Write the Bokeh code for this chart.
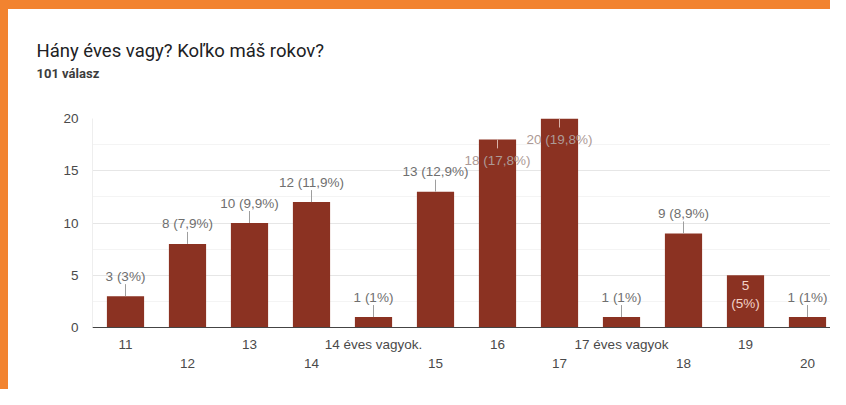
from bokeh.plotting import figure
from bokeh.models import (ColumnDataSource, LinearAxis, FixedTicker, Title,
                          Range1d)
from bokeh.core.properties import value
from bokeh.embed import file_html
from bokeh.resources import INLINE
import math

# ---- data ----
categories = ["11", "12", "13", "14", "14 éves vagyok.", "15", "16", "17",
              "17 éves vagyok", "18", "19", "20"]
counts = [3, 8, 10, 12, 1, 13, 18, 20, 1, 9, 5, 1]
y_ticks = [0, 5, 10, 15, 20]
title_text = "Hány éves vagy? Koľko máš rokov?"
subtitle_text = "101 válasz"

# ---- styles ----
TITLE_FONT = "Roboto"
CHART_FONT = "Liberation Sans"
FONT = value(CHART_FONT)
BAR = "#8B3222"
LABEL_GRAY = "#6f6f6f"
TICK_GRAY = "#4a4a4a"
ORANGE = "#F2832F"

total = sum(counts)


def pct(c):
    s = f"{round(100 * c / total, 1):.1f}".rstrip("0").rstrip(".")
    return s.replace(".", ",")


xs = list(range(len(categories)))
labels = [f"{c} ({pct(c)}%)" for c in counts]
vmax = max(counts)

above = dict(x=[], y=[], t=[])
inside = dict(x=[], y=[], t=[])
split = dict(x=[], y=[], t=[])
for x, c, t in zip(xs, counts, labels):
    if categories[x] == "19":
        split["x"].append(x); split["y"].append(c); split["t"].append(t.replace(" ", "\n"))
    elif c >= 0.9 * vmax:
        inside["x"].append(x); inside["y"].append(c); inside["t"].append(t)
    else:
        above["x"].append(x); above["y"].append(c); above["t"].append(t)

W, H = 830, 389
LEFT, TOP, BOTTOM = 92, 118, 62
first_px, step_px = 125, 62.0
x0 = -(first_px - LEFT) / step_px
x1 = (W - first_px) / step_px

card_bg = {
    "background-color": "white",
    "background-image": f"linear-gradient({ORANGE}, {ORANGE}), linear-gradient({ORANGE}, {ORANGE})",
    "background-size": "100% 9px, 8px 100%",
    "background-position": "0 0, 0 0",
    "background-repeat": "no-repeat",
}

p = figure(width=W, height=H, output_backend="svg", toolbar_location=None,
           x_range=Range1d(x0, x1), y_range=Range1d(0, 20),
           x_axis_location=None, title=None,
           min_border_left=LEFT, min_border_right=0, min_border_top=TOP,
           min_border_bottom=BOTTOM, styles=card_bg)
p.outline_line_color = None
p.background_fill_color = "white"
p.border_fill_color = None
p.xgrid.visible = False

# y axis
minor = [(a + b) / 2 for a, b in zip(y_ticks, y_ticks[1:])]
p.yaxis.ticker = FixedTicker(ticks=y_ticks, minor_ticks=minor)
p.yaxis.major_tick_line_color = None
p.yaxis.minor_tick_line_color = None
p.yaxis.axis_line_color = "#eeeeee"
p.yaxis.major_label_standoff = 8
p.yaxis.major_label_text_font = CHART_FONT
p.yaxis.major_label_text_font_size = "13.5px"
p.yaxis.major_label_text_color = TICK_GRAY
p.ygrid.grid_line_color = "#e6e6e6"
p.ygrid.minor_grid_line_color = "#f4f4f4"
p.ygrid.ticker = p.yaxis[0].ticker

# x axes (staggered labels)
even = [x for x in xs if x % 2 == 0]
odd = [x for x in xs if x % 2 == 1]
for ticks, standoff, line in ((even, 3, "#444444"), (odd, -2, None)):
    ax = LinearAxis(ticker=FixedTicker(ticks=ticks),
                    major_label_overrides={x: categories[x] for x in ticks},
                    major_label_standoff=standoff,
                    major_tick_line_color=None, minor_tick_line_color=None,
                    axis_line_color=line,
                    major_label_text_font=CHART_FONT,
                    major_label_text_font_size="13.5px",
                    major_label_text_color=TICK_GRAY)
    p.add_layout(ax, "below")

# bars
p.vbar(x=xs, top=counts, width=0.6, fill_color=BAR, line_color=None)

# data labels
a_src = ColumnDataSource(above)
p.ray(x="x", y="y", source=a_src, length=12, length_units="screen",
      angle=math.pi / 2, line_color="#9e9e9e", line_width=1)
p.text(x="x", y="y", text="t", source=a_src, y_offset=-20,
       text_align="center", text_baseline="middle", text_font=FONT,
       text_font_size="13.5px", text_color=LABEL_GRAY)

i_src = ColumnDataSource(inside)
p.ray(x="x", y="y", source=i_src, length=9, length_units="screen",
      angle=-math.pi / 2, line_color="#d9b3aa", line_width=1)
p.text(x="x", y="y", text="t", source=i_src, y_offset=21,
       text_align="center", text_baseline="middle", text_font=FONT,
       text_font_size="13.5px", text_color="#ad9a96")

s_src = ColumnDataSource(split)
p.text(x="x", y="y", text="t", source=s_src, y_offset=3,
       text_align="center", text_baseline="top", text_font=FONT,
       text_font_size="13.5px", text_color="#f3d2c8", text_line_height=1.2)

# spacer between the frame and the subtitle: an axis with one white,
# label-less tick whose outward length reserves the gap
mid = (x0 + x1) / 2
spacer = LinearAxis(ticker=FixedTicker(ticks=[mid]), major_tick_out=36,
                    major_tick_in=0, minor_tick_out=0, minor_tick_in=0,
                    major_label_standoff=0, major_label_overrides={mid: ""},
                    major_label_text_font_size="1px",
                    axis_line_color=None, major_tick_line_color="white",
                    major_tick_line_alpha=0.01,
                    minor_tick_line_color=None)
p.add_layout(spacer, "above")

# titles
p.add_layout(Title(text=subtitle_text, align="left", offset=36 - LEFT,
                   text_font=TITLE_FONT, text_font_size="13px",
                   text_font_style="bold", text_color="#3c3c3c",
                   standoff=4), "above")
p.add_layout(Title(text=title_text, align="left", offset=36 - LEFT,
                   text_font=TITLE_FONT, text_font_size="18.5px",
                   text_font_style="normal", text_color="#202124",
                   standoff=0), "above")

open("out.html", "w").write(file_html(p, INLINE))
